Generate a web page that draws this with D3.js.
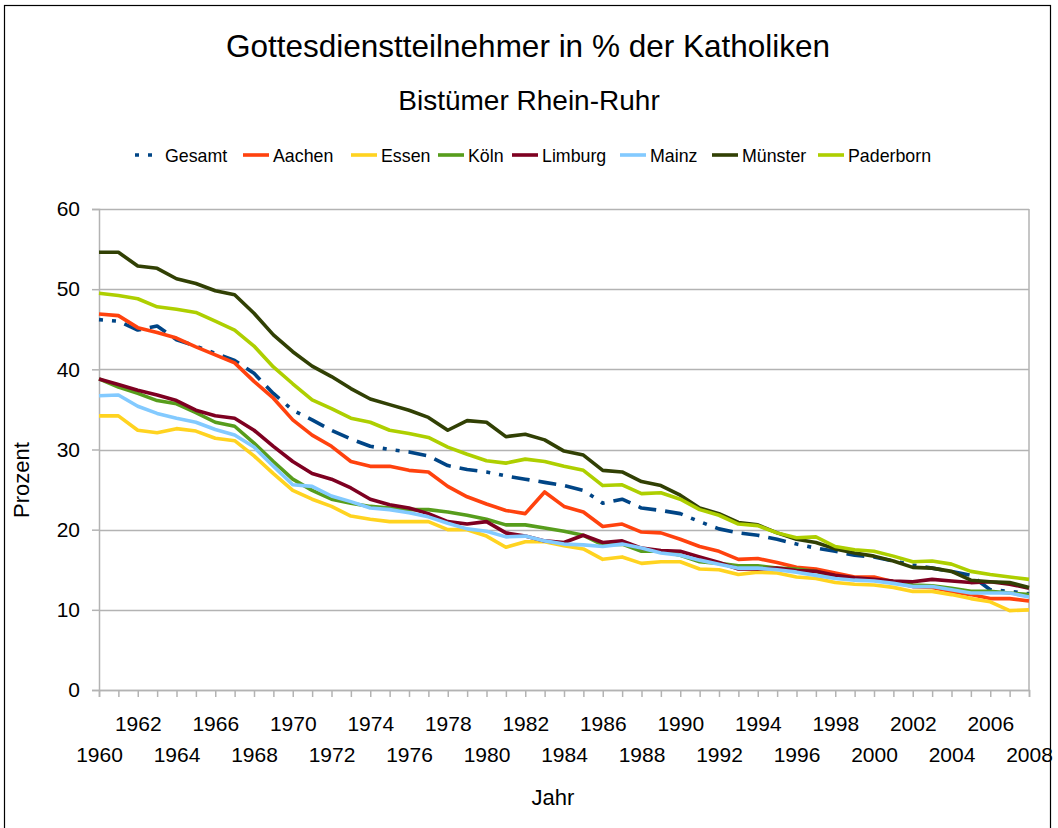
<!DOCTYPE html>
<html>
<head>
<meta charset="utf-8">
<script src="https://cdn.jsdelivr.net/npm/d3@7"></script>
<style>
  body { margin: 0; background: #fff; }
  svg { display: block; font-family: "Liberation Sans", Arial, sans-serif; }
</style>
</head>
<body>
<svg id="chart" width="1058" height="828"></svg>
<script>
const years = d3.range(1960, 2009);
const yTicks = [0, 10, 20, 30, 40, 50, 60];

const gesamt = [46.2, 46.0, 44.9, 45.4, 43.7, 42.9, 42.0, 41.1, 39.5, 37.0,
  34.9, 33.7, 32.4, 31.3, 30.4, 30.0, 29.7, 29.2, 28.0, 27.5,
  27.2, 26.7, 26.3, 25.9, 25.5, 24.9, 23.3, 23.8, 22.7, 22.4,
  22.0, 21.0, 20.1, 19.6, 19.3, 18.8, 18.2, 17.7, 17.3, 16.8,
  16.6, 16.1, 15.6, 15.2, 14.8, 14.3, 12.5, 12.3, 12.0];
const aachen = [46.9, 46.7, 45.2, 44.6, 43.9, 42.8, 41.8, 40.8, 38.5, 36.4,
  33.7, 31.8, 30.4, 28.5, 27.9, 27.9, 27.4, 27.2, 25.4, 24.1,
  23.2, 22.4, 22.0, 24.7, 22.9, 22.2, 20.4, 20.7, 19.7, 19.6,
  18.8, 17.9, 17.3, 16.3, 16.4, 15.9, 15.3, 15.1, 14.6, 14.1,
  14.1, 13.5, 12.9, 12.8, 12.3, 11.9, 11.4, 11.4, 11.1];
const essen = [34.2, 34.2, 32.4, 32.1, 32.6, 32.3, 31.4, 31.1, 29.2, 27.0,
  24.9, 23.8, 22.9, 21.7, 21.3, 21.0, 21.0, 21.0, 20.0, 20.0,
  19.2, 17.8, 18.5, 18.5, 18.0, 17.6, 16.3, 16.6, 15.8, 16.0,
  16.0, 15.1, 15.0, 14.4, 14.7, 14.6, 14.1, 13.9, 13.4, 13.2,
  13.1, 12.8, 12.3, 12.3, 11.9, 11.4, 11.0, 9.9, 10.0];
const koeln = [38.8, 37.8, 37.0, 36.1, 35.7, 34.6, 33.4, 32.9, 30.8, 28.5,
  26.3, 24.9, 23.8, 23.3, 22.9, 22.7, 22.5, 22.5, 22.2, 21.8,
  21.3, 20.6, 20.6, 20.2, 19.8, 19.3, 18.1, 18.2, 17.3, 17.3,
  16.8, 16.0, 15.8, 15.5, 15.5, 15.2, 15.1, 14.8, 14.1, 13.8,
  13.7, 13.5, 13.1, 13.0, 12.7, 12.3, 12.3, 12.1, 11.9];
const limburg = [38.8, 38.1, 37.4, 36.8, 36.1, 34.9, 34.2, 33.9, 32.4, 30.4,
  28.5, 27.0, 26.3, 25.2, 23.8, 23.1, 22.7, 22.0, 21.0, 20.7,
  21.0, 19.6, 19.2, 18.6, 18.4, 19.3, 18.4, 18.6, 17.7, 17.4,
  17.3, 16.6, 15.9, 15.1, 15.1, 15.2, 14.9, 14.8, 14.3, 14.0,
  13.8, 13.6, 13.5, 13.8, 13.6, 13.4, 13.5, 13.2, 12.7];
const mainz = [36.7, 36.8, 35.4, 34.5, 33.9, 33.4, 32.5, 31.8, 30.3, 27.9,
  25.6, 25.4, 24.2, 23.5, 22.7, 22.5, 22.1, 21.6, 20.8, 20.1,
  19.8, 19.1, 19.2, 18.6, 18.2, 18.1, 17.9, 18.2, 17.7, 17.1,
  16.8, 16.2, 15.7, 15.2, 15.2, 15.0, 14.7, 14.3, 13.9, 13.7,
  13.6, 13.3, 12.9, 12.9, 12.5, 12.1, 12.1, 12.1, 11.6];
const muenster = [54.6, 54.6, 52.9, 52.6, 51.3, 50.7, 49.8, 49.3, 47.0, 44.3,
  42.2, 40.4, 39.1, 37.6, 36.3, 35.6, 34.9, 34.0, 32.4, 33.6,
  33.4, 31.6, 31.9, 31.2, 29.8, 29.3, 27.4, 27.2, 26.0, 25.5,
  24.3, 22.7, 22.0, 20.9, 20.6, 19.6, 18.8, 18.4, 17.6, 17.1,
  16.7, 16.1, 15.3, 15.2, 14.8, 13.7, 13.5, 13.4, 12.8];
const paderborn = [49.5, 49.2, 48.8, 47.8, 47.5, 47.1, 46.0, 44.9, 42.9, 40.3,
  38.2, 36.2, 35.1, 33.9, 33.4, 32.4, 32.0, 31.5, 30.3, 29.4,
  28.6, 28.3, 28.8, 28.5, 27.9, 27.4, 25.5, 25.6, 24.5, 24.6,
  23.8, 22.5, 21.8, 20.7, 20.5, 19.6, 19.0, 19.1, 17.9, 17.5,
  17.3, 16.7, 16.0, 16.1, 15.7, 14.8, 14.4, 14.1, 13.8];

const seriesNames = [`Gesamt`, `Aachen`, `Essen`, `Köln`, `Limburg`, `Mainz`, `Münster`, `Paderborn`];
const seriesValues = [gesamt, aachen, essen, koeln, limburg, mainz, muenster, paderborn];
const seriesColors = [`#004586`, `#ff420e`, `#ffd320`, `#579d1c`, `#7e0021`, `#83caff`, `#314004`, `#aecf00`];

const gesamtDash = `4,9,4,9,18,9,18,9,18,9`;

const svg = d3.select(`#chart`);
const grey = `#b3b3b3`;

const x = d3.scaleLinear().domain([1960, 2008]).range([99, 1029]);
const y = d3.scaleLinear().domain([0, 60]).range([690, 209]);

// frame
svg.append(`rect`)
  .attr(`x`, 4.5).attr(`y`, 5.5)
  .attr(`width`, 1046).attr(`height`, 840)
  .attr(`fill`, `none`)
  .attr(`stroke`, `#000`)
  .attr(`stroke-width`, 1.2);

// titles
svg.append(`text`)
  .attr(`x`, 528).attr(`y`, 57)
  .attr(`text-anchor`, `middle`)
  .attr(`font-size`, `31.5px`)
  .text(`Gottesdienstteilnehmer in % der Katholiken`);

svg.append(`text`)
  .attr(`x`, 529).attr(`y`, 110)
  .attr(`text-anchor`, `middle`)
  .attr(`font-size`, `28px`)
  .text(`Bistümer Rhein-Ruhr`);

// grid
svg.append(`g`)
  .selectAll(`line`)
  .data(yTicks)
  .enter().append(`line`)
  .attr(`x1`, x(1960)).attr(`x2`, x(2008))
  .attr(`y1`, d => Math.round(y(d)) + 0.5)
  .attr(`y2`, d => Math.round(y(d)) + 0.5)
  .attr(`stroke`, grey)
  .attr(`stroke-width`, 1.5);

svg.append(`line`)
  .attr(`x1`, x(2008)).attr(`x2`, x(2008))
  .attr(`y1`, y(60)).attr(`y2`, y(0))
  .attr(`stroke`, grey)
  .attr(`stroke-width`, 1.5);

// x axis
const xAxis = svg.append(`g`)
  .attr(`transform`, `translate(0,${y(0)})`)
  .call(d3.axisBottom(x)
    .tickValues(years)
    .tickSize(7)
    .tickFormat(d => (d % 2 === 0 ? d : ``)));

xAxis.selectAll(`path, line`).attr(`stroke`, grey).attr(`stroke-width`, 1.5);
xAxis.selectAll(`text`)
  .attr(`font-family`, `"Liberation Sans", Arial, sans-serif`)
  .attr(`font-size`, `21px`)
  .attr(`fill`, `#000`)
  .attr(`dy`, null)
  .attr(`y`, d => ((d - 1960) % 4 === 0 ? 72 : 41));

// y axis
const yAxis = svg.append(`g`)
  .attr(`transform`, `translate(${x(1960)},0)`)
  .call(d3.axisLeft(y).tickValues(yTicks).tickSize(7).tickPadding(12));

yAxis.selectAll(`path, line`).attr(`stroke`, grey).attr(`stroke-width`, 1.5);
yAxis.selectAll(`text`)
  .attr(`font-family`, `"Liberation Sans", Arial, sans-serif`)
  .attr(`font-size`, `21px`)
  .attr(`fill`, `#000`);

// axis titles
svg.append(`text`)
  .attr(`x`, 553).attr(`y`, 805)
  .attr(`text-anchor`, `middle`)
  .attr(`font-size`, `22px`)
  .text(`Jahr`);

svg.append(`text`)
  .attr(`transform`, `translate(29,480) rotate(-90)`)
  .attr(`text-anchor`, `middle`)
  .attr(`font-size`, `22px`)
  .text(`Prozent`);

// lines
const line = d3.line()
  .x((d, i) => x(years[i]))
  .y(d => y(d));

svg.append(`g`)
  .selectAll(`path`)
  .data(seriesValues)
  .enter().append(`path`)
  .attr(`d`, line)
  .attr(`fill`, `none`)
  .attr(`stroke`, (d, i) => seriesColors[i])
  .attr(`stroke-width`, 3.6)
  .attr(`stroke-linejoin`, `round`)
  .attr(`stroke-dasharray`, (d, i) => (i === 0 ? gesamtDash : null));

// legend
const legendX = [135, 243, 351, 438, 512, 620, 712, 818];
const legend = svg.append(`g`)
  .selectAll(`g`)
  .data(seriesNames)
  .enter().append(`g`)
  .attr(`transform`, (d, i) => `translate(${legendX[i]},155)`);

legend.append(`line`)
  .attr(`x1`, 0).attr(`x2`, 26)
  .attr(`stroke`, (d, i) => seriesColors[i])
  .attr(`stroke-width`, 3.6)
  .attr(`stroke-dasharray`, (d, i) => (i === 0 ? gesamtDash : null));

legend.append(`text`)
  .attr(`x`, 30).attr(`y`, 7)
  .attr(`font-size`, `17.8px`)
  .text(d => d);
</script>
</body>
</html>
